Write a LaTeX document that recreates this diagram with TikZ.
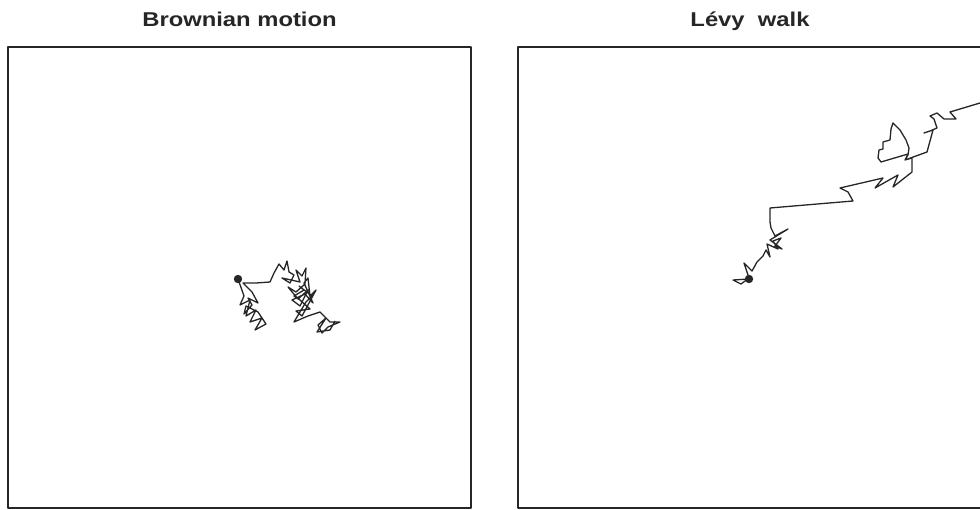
\documentclass[tikz,border=0pt]{standalone}
\usepackage{fontspec}
\usepackage{xcolor}
\usepackage{tikz}
\usetikzlibrary{calc,positioning}
\newfontfamily\titlefont{Liberation Sans}
\definecolor{ink}{HTML}{262626}

\begin{document}
\begin{tikzpicture}[x=1pt,y=-1pt,line join=round,
  frame/.style={draw=ink,line width=1.8pt},
  walk/.style={draw=ink,line width=1.3pt},
  heading/.style={anchor=base,inner sep=0pt,text=ink,font=\titlefont\bfseries\fontsize{20}{22}\selectfont}]
  \useasboundingbox (0,0) rectangle (980,510);
  % 两个方框
  \coordinate (L1) at (8,47);   \coordinate (L2) at (471,508);
  \coordinate (R1) at (518,47); \coordinate (R2) at (982,508);
  \draw[frame] (L1) rectangle (L2);
  \draw[frame] (R1) rectangle (R2);
  \node[heading] (brown) at (239.5,26.7) {\scalebox{1.19}[1]{Brownian motion}};
  \node[heading] (levy) at (750,26.7) {\scalebox{1.19}[1]{L\'evy\ \ walk}};
  % 布朗运动: 起点 S
  \coordinate (S) at (238,279);
  \draw[walk] (S) -- (244,296) -- (240,305) -- (250,300) -- (246,316) -- (256,310)
    -- (250,322) -- (262,318) -- (255,330) -- (266,324) -- (258,312) -- (246,306)
    -- (244,314) -- (252,305) -- (248,298) -- (258,303) -- (252,292) -- (243,283)
    -- (256,283) -- (270,282) -- (274,273) -- (279,264) -- (284,270) -- (287,261)
    -- (289,272) -- (294,275) -- (290,283) -- (282,278) -- (300,282) -- (296,270)
    -- (302,276) -- (306,268) -- (305,284) -- (296,292) -- (288,287) -- (298,299)
    -- (308,290) -- (300,306) -- (292,300) -- (305,294) -- (313,303) -- (304,283)
    -- (308,278) -- (310,296) -- (316,290) -- (302,316) -- (296,311) -- (310,309)
    -- (300,300) -- (294,296) -- (304,290) -- (299,286) -- (312,296) -- (306,302)
    -- (294,322) -- (308,316) -- (320,312) -- (326,318) -- (330,322)
    -- (340,322) -- (328,327) -- (322,333) -- (318,325) -- (326,318) -- (317,332)
    -- (330,330) -- (335,321);
  \fill[ink] (S) circle (4.2);
  % Lévy walk: 起点 T
  \coordinate (T) at (749,279);
  \begin{scope}
    \clip (R1) rectangle (R2);
    \draw[walk] (T) -- (733,280) -- (741,284) -- (749,278) -- (744,263) -- (752,271)
      -- (757,262) -- (763,256) -- (766,250) -- (770,257) -- (767,244) -- (778,249)
      -- (773,241) -- (781,238) -- (775,246) -- (782,249) -- (770,240) -- (788,229)
      -- (775,236) -- (771,228) -- (770,222)
      -- (770,208) -- (853,201) -- (848,192) -- (840,188) -- (883,178) -- (875,188)
      -- (898,175) -- (893,187) -- (912,172) -- (912,158) -- (905,160) -- (908,154)
      -- (881,162) -- (878,158) -- (879,150) -- (883,149) -- (883,142) -- (890,140)
      -- (891,129) -- (893,123) -- (900,130) -- (906,140) -- (909,148) -- (908,155)
      -- (905,160) -- (927,152) -- (933,130) -- (924,133) -- (930,131) -- (937,128)
      -- (934,119) -- (930,116) -- (937,113) -- (944,119) -- (956,119) -- (950,112)
      -- (980,103) -- (1000,97);
  \end{scope}
  \fill[ink] (T) circle (4.2);
\end{tikzpicture}
\end{document}
